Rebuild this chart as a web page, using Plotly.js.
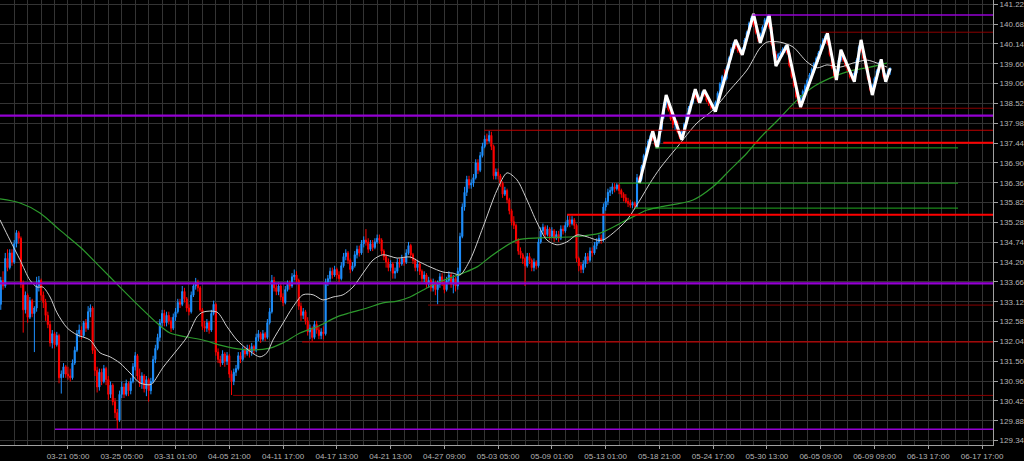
<!DOCTYPE html>
<html>
<head>
<meta charset="utf-8">
<script src="https://cdn.plot.ly/plotly-3.0.1.min.js"></script>
<style>html,body{margin:0;padding:0;background:#000;}#chart{width:1024px;height:461px;}</style>
</head>
<body>
<div id="chart"></div>
<script>
// ---- x-axis labels (candle index -> label) ----
const tickIndex = [30,54,78,102,126,150,174,198,222,246,270,294,318,342,366,390,414,438];
const tickLabels = ['03-21 05:00','03-25 05:00','03-31 01:00','04-05 21:00','04-11 17:00','04-17 13:00','04-21 13:00','04-27 09:00','05-03 05:00','05-09 01:00','05-13 01:00','05-18 21:00','05-24 17:00','05-30 13:00','06-05 09:00','06-09 09:00','06-13 17:00','06-17 17:00'];

// ---- 4h candles ----
const openP = [
133.05,133.70,133.55,134.30,134.05,134.45,134.20,134.70,135.00,134.85,
133.60,132.90,133.30,132.70,133.15,132.80,132.95,133.55,133.70,133.30,
133.10,132.75,132.50,132.00,132.25,131.95,132.20,131.05,131.15,131.35,
131.15,131.10,131.05,131.45,131.80,132.25,132.35,132.20,132.55,132.40,
132.85,132.95,131.80,131.25,130.80,131.20,130.95,131.30,131.00,130.60,
130.85,130.40,130.10,129.90,130.60,130.80,130.60,130.90,130.70,130.95,
131.35,131.65,131.10,130.90,131.10,130.75,131.00,130.70,130.95,131.55,
131.85,132.15,132.55,132.80,132.55,132.75,132.60,132.40,132.70,132.85,
133.10,133.05,133.40,133.20,132.95,132.85,133.30,133.55,133.65,133.50,
132.90,132.45,132.40,132.55,132.35,132.80,133.05,131.75,131.55,131.45,
131.70,131.50,131.65,131.15,130.95,131.20,131.30,131.65,131.55,131.80,
131.70,131.85,131.75,131.90,131.80,132.15,132.25,132.10,132.25,132.15,
132.55,132.85,133.70,133.50,133.40,133.55,133.25,133.10,133.45,133.60,
133.55,133.80,133.85,133.70,133.00,132.75,132.85,132.60,132.30,132.40,
132.15,132.50,132.35,132.20,132.30,132.25,133.65,133.75,133.95,133.85,
134.00,133.85,133.75,134.10,134.35,134.45,134.25,134.00,134.10,134.40,
134.55,134.45,134.70,134.80,134.75,134.55,134.70,134.60,134.75,134.85,
134.80,134.50,134.35,134.20,134.05,134.15,133.90,133.95,134.20,134.15,
134.30,134.20,134.45,134.65,134.40,134.25,134.05,134.15,133.95,133.75,
133.85,133.60,133.70,133.50,133.65,133.45,133.60,133.80,133.65,133.45,
133.70,133.85,133.60,133.75,133.55,133.95,134.90,135.70,136.10,136.45,
136.30,136.35,136.50,136.90,136.70,137.10,137.35,137.55,137.50,137.65,
137.35,136.55,136.65,136.55,136.35,136.05,136.15,135.90,135.60,135.30,
135.20,134.80,134.50,134.40,134.30,134.10,134.35,134.25,134.05,134.20,
134.10,134.75,135.05,135.15,134.95,135.10,134.90,135.05,134.85,134.95,
134.85,135.10,135.05,135.20,135.35,135.25,135.35,135.20,134.30,134.10,
134.00,134.15,134.35,134.25,134.50,134.45,134.65,134.75,134.85,134.80,
135.70,135.85,136.10,136.15,136.25,136.20,136.30,136.15,136.05,135.95,
135.85,135.80,135.75,135.80,135.72,136.50,136.45,136.80,137.10,137.30,
137.50,137.65,137.55,137.40,137.45,137.80,138.15,138.50,138.60,138.35,
138.10,137.95,138.00,137.75,137.60,137.75,137.95,138.20,138.40,138.55,
138.75,138.70,138.60,138.65,138.80,138.75,138.60,138.50,138.40,138.45,
138.55,138.80,139.05,139.25,139.20,139.50,139.75,140.00,140.15,140.05,
139.95,139.90,140.00,140.25,140.45,140.70,140.85,140.65,140.45,140.30,
140.40,140.60,140.80,140.85,140.60,140.15,139.85,139.75,139.85,139.90,
140.00,140.05,139.90,139.55,139.25,139.00,138.70,138.55,138.70,138.85,
139.00,139.15,139.30,139.45,139.60,139.75,139.90,140.10,140.25,140.35,
140.15,139.85,139.50,139.25,139.40,139.70,139.85,139.70,139.55,139.40,
139.25,139.20,139.35,139.70,140.05,139.95,139.75,139.50,139.20,138.90,
139.00,139.20,139.40,139.60,139.50,139.25,139.30,139.40];
const highP = [
133.80,133.95,134.45,134.55,134.55,134.55,134.80,135.07,135.05,134.90,
133.70,133.40,133.35,133.25,133.20,133.00,133.80,133.82,133.75,133.40,
133.20,132.85,132.60,132.35,132.30,132.30,132.25,131.25,131.45,131.40,
131.35,131.30,131.55,131.90,132.35,132.50,132.45,132.60,132.65,133.00,
133.05,133.00,131.90,131.35,131.30,131.30,131.40,131.35,131.10,130.95,
130.90,130.50,130.20,130.70,130.95,130.90,131.00,130.95,131.05,131.45,
131.75,131.70,131.30,131.20,131.15,131.10,131.05,131.05,131.65,131.95,
132.25,132.65,132.90,132.90,132.85,132.85,132.70,132.80,132.95,133.20,
133.20,133.55,133.50,133.25,133.05,133.40,133.60,133.77,133.72,133.55,
132.95,132.60,132.65,132.60,132.90,133.15,133.10,131.85,131.65,131.80,
131.75,131.75,131.70,131.25,131.30,131.40,131.75,131.75,131.90,131.90,
131.95,131.95,132.00,131.95,132.25,132.35,132.30,132.35,132.30,132.65,
132.95,133.85,133.80,133.60,133.65,133.60,133.35,133.55,133.70,133.70,
133.90,134.00,133.95,133.75,133.10,132.95,132.90,132.70,132.50,132.45,
132.60,132.60,132.45,132.40,132.45,133.75,133.85,134.05,134.05,134.10,
134.05,133.95,134.20,134.45,134.55,134.50,134.30,134.20,134.50,134.65,
134.65,134.80,134.90,135.10,134.85,134.80,134.80,134.85,134.95,134.95,
134.85,134.55,134.40,134.30,134.25,134.20,134.05,134.30,134.30,134.40,
134.35,134.55,134.75,134.70,134.45,134.30,134.25,134.20,134.00,133.95,
133.90,133.80,133.75,133.75,133.70,133.70,133.90,133.90,133.70,133.80,
133.95,133.90,133.85,133.80,134.05,135.00,135.80,136.25,136.55,136.55,
136.45,136.60,137.00,137.00,137.20,137.45,137.65,137.70,137.78,137.75,
137.40,136.75,136.75,136.60,136.40,136.25,136.20,135.95,135.65,135.45,
135.25,134.85,134.60,134.45,134.35,134.45,134.45,134.30,134.30,134.25,
134.85,135.15,135.25,135.20,135.20,135.15,135.15,135.10,135.05,135.05,
135.20,135.20,135.30,135.49,135.45,135.45,135.40,135.25,134.35,134.20,
134.25,134.45,134.45,134.60,134.60,134.75,134.85,134.95,134.95,135.80,
135.95,136.20,136.25,136.35,136.35,136.35,136.35,136.20,136.10,136.05,
135.95,135.90,135.85,135.85,136.60,136.55,136.85,137.15,137.35,137.55,
137.70,137.77,137.60,137.50,137.85,138.20,138.55,138.75,138.65,138.40,
138.20,138.10,138.05,137.80,137.80,138.00,138.25,138.45,138.60,138.80,
138.91,138.75,138.70,138.85,138.89,138.80,138.70,138.55,138.50,138.60,
138.85,139.10,139.30,139.45,139.55,139.80,140.05,140.20,140.25,140.10,
140.00,140.05,140.30,140.50,140.75,140.90,140.96,140.70,140.50,140.45,
140.65,140.85,140.90,140.93,140.65,140.20,139.95,139.90,139.95,140.05,
140.10,140.11,139.95,139.60,139.35,139.10,138.80,138.75,138.90,139.05,
139.20,139.35,139.50,139.65,139.80,139.95,140.15,140.30,140.40,140.43,
140.20,139.90,139.55,139.45,139.75,139.98,139.90,139.75,139.60,139.45,
139.35,139.40,139.75,140.10,140.25,140.00,139.80,139.55,139.25,139.05,
139.25,139.45,139.65,139.72,139.55,139.35,139.45,139.50];
const lowP = [
132.90,133.45,133.50,133.95,134.00,134.10,134.15,134.60,134.70,133.50,
132.28,132.80,132.55,132.65,132.70,131.75,132.85,133.40,133.15,132.95,
132.60,132.40,131.90,131.85,131.85,131.90,130.90,130.62,131.05,131.05,
131.00,130.95,131.00,131.40,131.75,132.15,132.10,132.15,132.30,132.35,
132.70,131.70,131.10,130.65,130.70,130.85,130.90,130.85,130.45,130.50,
130.30,129.95,129.65,129.85,130.50,130.50,130.55,130.55,130.60,130.90,
131.25,131.00,130.80,130.75,130.65,130.55,130.40,130.60,130.90,131.45,
131.80,132.05,132.45,132.45,132.45,132.50,132.30,132.35,132.60,132.80,
132.95,133.00,133.10,132.85,132.75,132.80,133.25,133.45,133.40,132.85,
132.35,132.30,132.30,132.25,132.30,132.75,131.65,131.45,131.35,131.40,
131.35,131.40,131.05,130.58,130.85,131.10,131.25,131.45,131.50,131.60,
131.65,131.60,131.65,131.70,131.75,132.05,132.00,132.05,132.05,132.10,
132.50,132.80,133.40,133.30,133.30,133.15,133.00,133.05,133.40,133.45,
133.50,133.70,133.65,132.90,132.60,132.65,132.50,132.20,132.10,132.04,
132.10,132.25,132.10,132.10,132.10,132.20,133.55,133.65,133.75,133.80,
133.75,133.65,133.70,134.05,134.25,134.15,133.90,133.95,134.05,134.30,
134.35,134.40,134.60,134.65,134.45,134.50,134.50,134.55,134.70,134.70,
134.40,134.25,134.05,133.95,133.95,133.75,133.75,133.90,134.05,134.10,
134.10,134.15,134.40,134.30,134.15,133.95,133.95,133.85,133.65,133.65,
133.50,133.50,133.40,133.40,133.30,133.05,133.50,133.55,133.35,133.40,
133.60,133.50,133.35,133.40,133.45,133.85,134.85,135.60,136.00,136.20,
136.20,136.25,136.45,136.60,136.65,137.05,137.30,137.40,137.45,137.25,
136.45,136.45,136.45,136.25,135.95,136.00,135.80,135.50,135.20,135.10,
134.70,134.40,134.30,134.15,133.55,134.05,134.15,133.95,133.95,134.00,
134.05,134.70,134.95,134.85,134.90,134.80,134.85,134.75,134.80,134.75,
134.80,134.95,135.00,135.15,135.15,135.20,135.10,134.20,133.95,133.90,
133.90,134.05,134.15,134.20,134.35,134.40,134.55,134.70,134.70,134.75,
135.60,135.75,136.00,136.05,136.10,136.15,136.05,135.95,135.85,135.80,
135.70,135.68,135.67,135.67,135.68,136.35,136.40,136.75,137.00,137.20,
137.45,137.50,137.35,137.31,137.40,137.75,138.10,138.40,138.30,138.05,
137.85,137.80,137.70,137.55,137.53,137.70,137.90,138.10,138.30,138.50,
138.65,138.55,138.54,138.60,138.70,138.55,138.45,138.35,138.32,138.30,
138.50,138.75,138.95,139.10,139.15,139.45,139.70,139.90,140.00,139.90,
139.85,139.84,139.95,140.20,140.40,140.60,140.60,140.40,140.20,140.17,
140.35,140.55,140.70,140.55,140.10,139.80,139.54,139.65,139.70,139.80,
139.90,139.85,139.50,139.20,138.95,138.65,138.50,138.42,138.60,138.75,
138.90,139.05,139.20,139.35,139.50,139.65,139.85,140.00,140.15,140.10,
139.80,139.45,139.20,139.16,139.35,139.65,139.65,139.50,139.35,139.20,
139.15,139.11,139.30,139.65,139.90,139.70,139.45,139.15,138.85,138.75,
138.95,139.15,139.35,139.45,139.20,139.10,139.25,139.30];
const closeP = [
133.70,133.55,134.30,134.05,134.45,134.20,134.70,135.00,134.85,133.60,
132.90,133.30,132.70,133.15,132.80,132.95,133.55,133.70,133.30,133.10,
132.75,132.50,132.00,132.25,131.95,132.20,131.05,131.15,131.35,131.15,
131.10,131.05,131.45,131.80,132.25,132.35,132.20,132.55,132.40,132.85,
132.95,131.80,131.25,130.80,131.20,130.95,131.30,131.00,130.60,130.85,
130.40,130.10,129.90,130.60,130.80,130.60,130.90,130.70,130.95,131.35,
131.65,131.10,130.90,131.10,130.75,131.00,130.70,130.95,131.55,131.85,
132.15,132.55,132.80,132.55,132.75,132.60,132.40,132.70,132.85,133.10,
133.05,133.40,133.20,132.95,132.85,133.30,133.55,133.65,133.50,132.90,
132.45,132.40,132.55,132.35,132.80,133.05,131.75,131.55,131.45,131.70,
131.50,131.65,131.15,130.95,131.20,131.30,131.65,131.55,131.80,131.70,
131.85,131.75,131.90,131.80,132.15,132.25,132.10,132.25,132.15,132.55,
132.85,133.70,133.50,133.40,133.55,133.25,133.10,133.45,133.60,133.55,
133.80,133.85,133.70,133.00,132.75,132.85,132.60,132.30,132.40,132.15,
132.50,132.35,132.20,132.30,132.25,133.65,133.75,133.95,133.85,134.00,
133.85,133.75,134.10,134.35,134.45,134.25,134.00,134.10,134.40,134.55,
134.45,134.70,134.80,134.75,134.55,134.70,134.60,134.75,134.85,134.80,
134.50,134.35,134.20,134.05,134.15,133.90,133.95,134.20,134.15,134.30,
134.20,134.45,134.65,134.40,134.25,134.05,134.15,133.95,133.75,133.85,
133.60,133.70,133.50,133.65,133.45,133.60,133.80,133.65,133.45,133.70,
133.85,133.60,133.75,133.55,133.95,134.90,135.70,136.10,136.45,136.30,
136.35,136.50,136.90,136.70,137.10,137.35,137.55,137.50,137.65,137.35,
136.55,136.65,136.55,136.35,136.05,136.15,135.90,135.60,135.30,135.20,
134.80,134.50,134.40,134.30,134.10,134.35,134.25,134.05,134.20,134.10,
134.75,135.05,135.15,134.95,135.10,134.90,135.05,134.85,134.95,134.85,
135.10,135.05,135.20,135.35,135.25,135.35,135.20,134.30,134.10,134.00,
134.15,134.35,134.25,134.50,134.45,134.65,134.75,134.85,134.80,135.70,
135.85,136.10,136.15,136.25,136.20,136.30,136.15,136.05,135.95,135.85,
135.80,135.75,135.80,135.72,136.50,136.45,136.80,137.10,137.30,137.50,
137.65,137.55,137.40,137.45,137.80,138.15,138.50,138.60,138.35,138.10,
137.95,138.00,137.75,137.60,137.75,137.95,138.20,138.40,138.55,138.75,
138.70,138.60,138.65,138.80,138.75,138.60,138.50,138.40,138.45,138.55,
138.80,139.05,139.25,139.20,139.50,139.75,140.00,140.15,140.05,139.95,
139.90,140.00,140.25,140.45,140.70,140.85,140.65,140.45,140.30,140.40,
140.60,140.80,140.85,140.60,140.15,139.85,139.75,139.85,139.90,140.00,
140.05,139.90,139.55,139.25,139.00,138.70,138.55,138.70,138.85,139.00,
139.15,139.30,139.45,139.60,139.75,139.90,140.10,140.25,140.35,140.15,
139.85,139.50,139.25,139.40,139.70,139.85,139.70,139.55,139.40,139.25,
139.20,139.35,139.70,140.05,139.95,139.75,139.50,139.20,138.90,139.00,
139.20,139.40,139.60,139.50,139.25,139.30,139.40,139.48];
const candleIndex = openP.map((_, i) => i);

// ---- fast moving average ----
const maFastX = [-0.35,4.1,8.6,13.0,16.2,18.8,22.0,25.1,29.6,34.0,39.8,44.3,48.8,53.2,57.7,62.1,66.6,67.9,72.4,78.7,83.1,87.6,90.3,96.5,101.0,105.4,110.4,115.7,118.8,121.5,126.0,130.4,134.9,139.4,143.8,148.3,152.8,157.2,161.7,166.2,170.6,176.9,182.7,187.1,191.6,197.4,201.9,205.0,209.5,215.3,221.5,226.0,230.4,234.9,239.4,243.8,248.3,252.7,257.2,261.7,266.1,268.8,273.3,279.5,285.3,289.8,294.3,301.9,310.8,317.9,325.5,333.1,338.9,342.0,347.8,353.6,359.9,364.4,368.8,374.6,380.4,386.7,391.1,395.6];
const maFastY = [135.35,134.80,134.26,133.71,133.52,133.52,133.25,132.82,132.41,132.22,132.08,131.73,131.62,131.45,131.18,130.91,130.86,130.91,131.33,131.81,132.16,132.71,132.84,132.84,132.44,132.08,131.81,131.62,131.73,132.08,132.54,132.98,133.31,133.31,133.17,133.25,133.31,133.52,133.90,134.26,134.40,134.31,134.34,134.20,134.07,133.93,133.90,133.85,134.26,135.16,136.16,136.63,136.44,135.89,135.27,134.80,134.67,134.75,134.94,134.89,134.80,134.80,134.99,135.35,135.89,136.35,136.76,137.33,137.99,138.34,138.89,139.43,140.03,140.19,140.19,140.06,139.65,139.49,139.57,139.51,139.62,139.70,139.62,139.51];

// ---- slow moving average ----
const maSlowX = [-0.35,8.6,17.5,26.4,35.4,44.3,53.2,62.1,69.7,75.5,83.1,90.3,97.9,103.7,111.3,120.2,126.0,133.6,141.2,150.1,155.9,163.5,170.6,176.9,182.7,188.5,194.7,200.5,206.3,212.6,218.4,222.8,230.4,240.7,255.4,267.5,279.5,288.5,294.3,309.0,317.9,325.5,333.1,338.9,346.9,355.4,362.6,370.2,377.7,388.0,395.6];
const maSlowY = [135.92,135.81,135.54,135.07,134.61,134.07,133.52,132.98,132.54,132.27,132.16,132.08,131.94,131.86,131.81,131.86,132.00,132.27,132.44,132.71,132.82,132.95,133.09,133.14,133.25,133.44,133.63,133.77,133.90,134.07,134.34,134.53,134.80,134.86,134.89,134.99,135.35,135.62,135.70,135.89,136.25,136.71,137.17,137.58,138.07,138.61,138.97,139.21,139.38,139.51,139.62];

// ---- zigzag swing points ----
const zigzagX = [285,291,293,297,304,310,312,314,319,328,331,336,339,343,346,351,357,369,373,375,381,384,389,393,395,397];
const zigzagY = [136.35,137.77,137.31,138.75,137.53,138.91,138.54,138.89,138.30,140.25,139.84,140.96,140.17,140.93,139.54,140.11,138.42,140.43,139.16,139.98,139.11,140.25,138.75,139.72,139.11,139.48];

// ---- horizontal levels ----
const levelPrice = [140.93,140.46,138.39,138.19,137.79,137.45,137.31,136.35,135.67,135.49,133.62,133.03,132.03,130.57,129.65];
const levelFrom  = [335.5,366,352,-0.35,215.8,295.7,292,276,283,252.8,-0.35,190.7,134.5,103.7,24.2];
const levelTo    = [442.9,442.9,442.9,442.9,442.9,442.9,427.3,427.3,427.3,442.9,442.9,442.9,442.9,442.9,442.9];
const levelKind  = ['violet','weak','weak','violetBold','mid','strong','green','green','green','strong','violetBold','weak','mid','weak','violet'];

const levelStyle = {
  violet:     {color:'#9400d3', width:1.5},
  violetBold: {color:'#9400d3', width:2.2},
  weak:       {color:'#8b0000', width:1},
  mid:        {color:'#c00000', width:1.2},
  strong:     {color:'#ff0000', width:2.2},
  green:      {color:'#22aa22', width:1}
};

const shapes = levelPrice.map((p, k) => ({
  type:'line', xref:'x', yref:'y', x0:levelFrom[k], x1:levelTo[k], y0:p, y1:p,
  line:{color:levelStyle[levelKind[k]].color, width:levelStyle[levelKind[k]].width},
  layer:'above'
}));

const font = {family:'Liberation Sans, Arial, sans-serif', size:8, color:'#b4b4b4'};

const traces = [
  {
    type:'candlestick', x:candleIndex, open:openP, high:highP, low:lowP, close:closeP,
    increasing:{line:{color:'#1e90ff', width:1}, fillcolor:'#1e90ff'},
    decreasing:{line:{color:'#ff0000', width:1}, fillcolor:'#ff0000'},
    whiskerwidth:0, hoverinfo:'none', showlegend:false
  },
  {type:'scatter', mode:'lines', x:maSlowX, y:maSlowY, line:{color:'#2c9a2c', width:1.2, shape:'spline', smoothing:0.8}, hoverinfo:'none'},
  {type:'scatter', mode:'lines', x:maFastX, y:maFastY, line:{color:'#cfcfcf', width:1, shape:'spline', smoothing:0.8}, hoverinfo:'none'},
  {type:'scatter', mode:'lines', x:zigzagX, y:zigzagY, line:{color:'#ffffff', width:3}, hoverinfo:'none'}
];

const layout = {
  width:1024, height:461,
  paper_bgcolor:'#000000', plot_bgcolor:'#000000',
  margin:{l:0, r:31, t:0, b:16},
  showlegend:false,
  xaxis:{
    range:[-0.35, 442.9], tickmode:'array', tickvals:tickIndex, ticktext:tickLabels,
    showgrid:true, gridcolor:'#343434', gridwidth:1,
    minor:{tickmode:'linear', tick0:0, dtick:6, showgrid:true, gridcolor:'#343434', gridwidth:1, ticks:''},
    showline:true, linecolor:'#a0a0a0', linewidth:1,
    ticks:'outside', ticklen:3, tickcolor:'#a0a0a0', tickfont:font,
    zeroline:false, rangeslider:{visible:false}, fixedrange:true
  },
  yaxis:{
    side:'right', range:[129.22, 141.337], tickmode:'linear', tick0:129.34, dtick:0.54, tickformat:'.2f',
    showgrid:true, gridcolor:'#343434', gridwidth:1,
    showline:true, linecolor:'#a0a0a0', linewidth:1,
    ticks:'outside', ticklen:4, tickcolor:'#a0a0a0', tickfont:font,
    zeroline:false, fixedrange:true
  },
  shapes:shapes
};

Plotly.newPlot('chart', traces, layout, {displayModeBar:false, staticPlot:true});
</script>
</body>
</html>
